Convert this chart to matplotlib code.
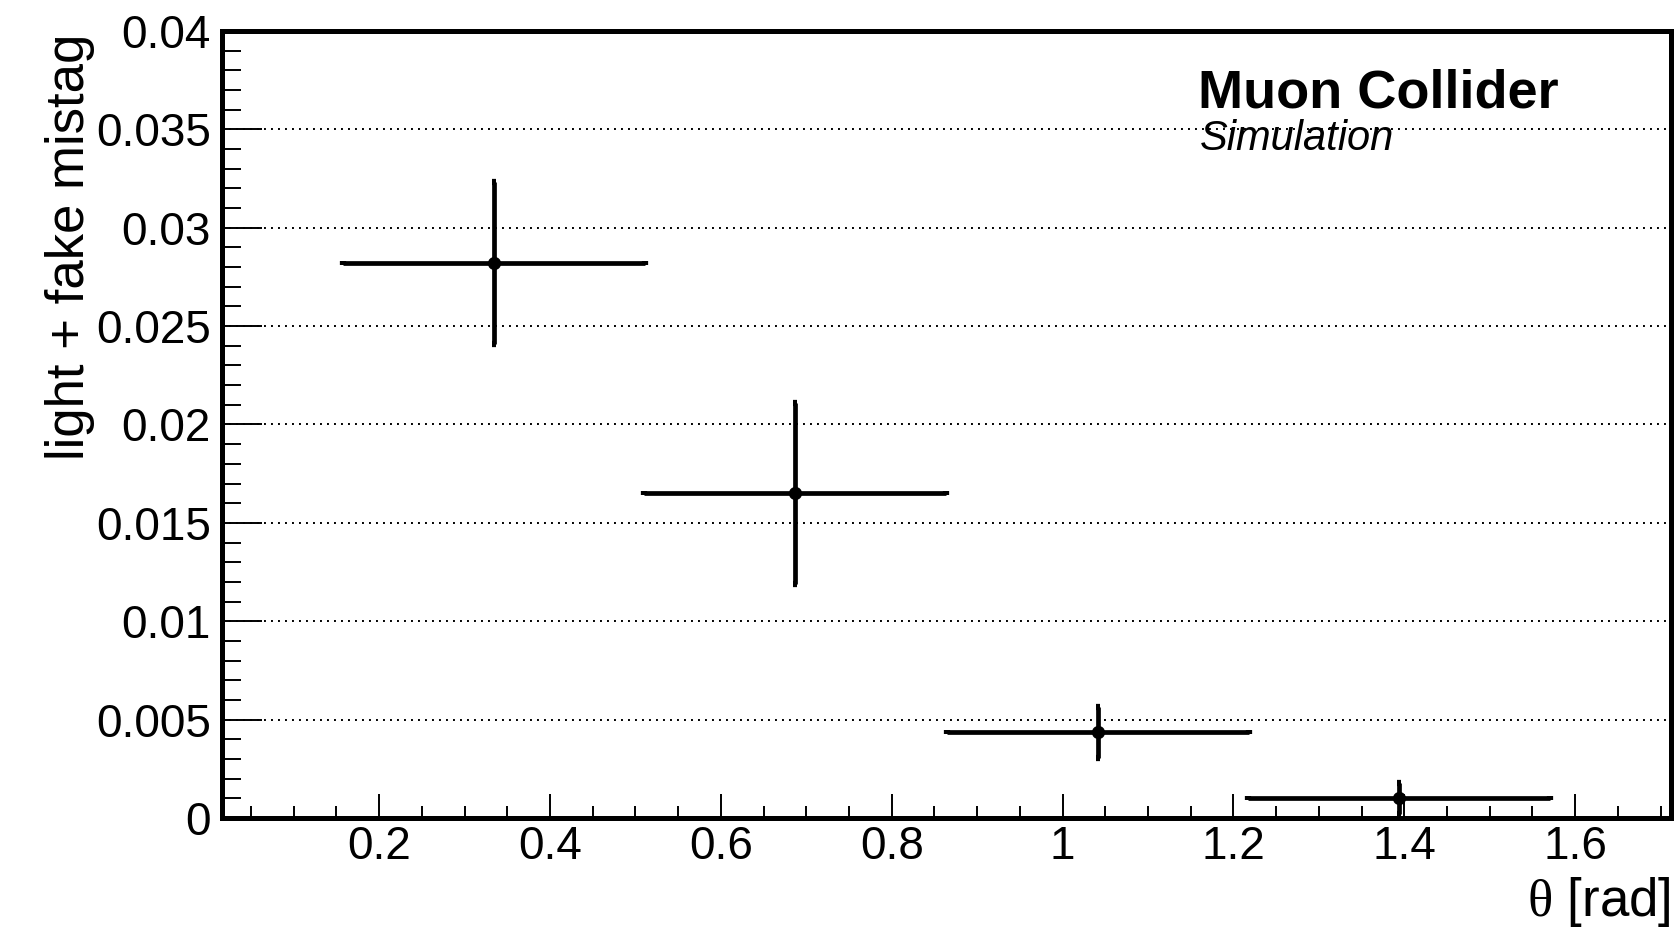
import numpy as np
import matplotlib
matplotlib.use("Agg")
import matplotlib.pyplot as plt
from matplotlib.ticker import MultipleLocator, FuncFormatter

# Datos
theta = [0.334, 0.687, 1.041, 1.394]
theta_err = [0.1767, 0.1767, 0.1767, 0.1767]
mistag = [0.0282, 0.0165, 0.00436, 0.00100]
mistag_err = [0.0041, 0.0046, 0.00130, 0.00080]
grid_y = [0.005, 0.01, 0.015, 0.02, 0.025, 0.03, 0.035]

plt.rcParams['font.family'] = ['Liberation Sans', 'DejaVu Sans']
plt.rcParams['mathtext.fontset'] = 'custom'
plt.rcParams['mathtext.rm'] = 'Liberation Serif'

fig = plt.figure(figsize=(16.8, 9.31), dpi=100)
ax = fig.add_axes([0.132, 0.1214, 0.8626, 0.8453])

for g in grid_y:
    ax.axhline(g, color='k', lw=1.4, ls=(0, (1, 2.6)), zorder=1)

ax.errorbar(theta, mistag, xerr=theta_err, yerr=mistag_err, fmt='o', color='k',
            markersize=8.5, elinewidth=3.4, capsize=1.2, capthick=4.5, zorder=3)

ax.set_xlim(0.0157, 1.7122)
ax.set_ylim(0, 0.04)

ax.xaxis.set_major_locator(MultipleLocator(0.2))
ax.xaxis.set_minor_locator(MultipleLocator(0.05))
ax.yaxis.set_major_locator(MultipleLocator(0.005))
ax.yaxis.set_minor_locator(MultipleLocator(0.001))
fmt = FuncFormatter(lambda v, p: '%g' % round(v, 6))
ax.xaxis.set_major_formatter(fmt)
ax.yaxis.set_major_formatter(fmt)

ax.tick_params(axis='both', which='both', direction='in', top=False, right=False,
               labelsize=33, width=1.4, color='k')
ax.tick_params(axis='y', which='major', length=29, pad=8)
ax.tick_params(axis='y', which='minor', length=13.5)
ax.tick_params(axis='x', which='major', length=17, pad=5)
ax.tick_params(axis='x', which='minor', length=8.6)

for s in ax.spines.values():
    s.set_linewidth(3.6)

fig.text(0.0265, 0.9635, 'light + fake mistag', rotation=90, ha='left', va='top',
         fontsize=38)
fig.text(0.9946, 0.016, r'$\mathrm{\theta}$ [rad]', ha='right', va='baseline',
         fontsize=38)

fig.text(1198 / 1680, 1 - 107 / 931, 'Muon Collider', fontsize=39,
         fontweight='bold', ha='left', va='baseline')
fig.text(1200 / 1680, 1 - 150 / 931, 'Simulation', fontsize=30,
         fontstyle='italic', ha='left', va='baseline')

fig.savefig('out.png', dpi=100)
